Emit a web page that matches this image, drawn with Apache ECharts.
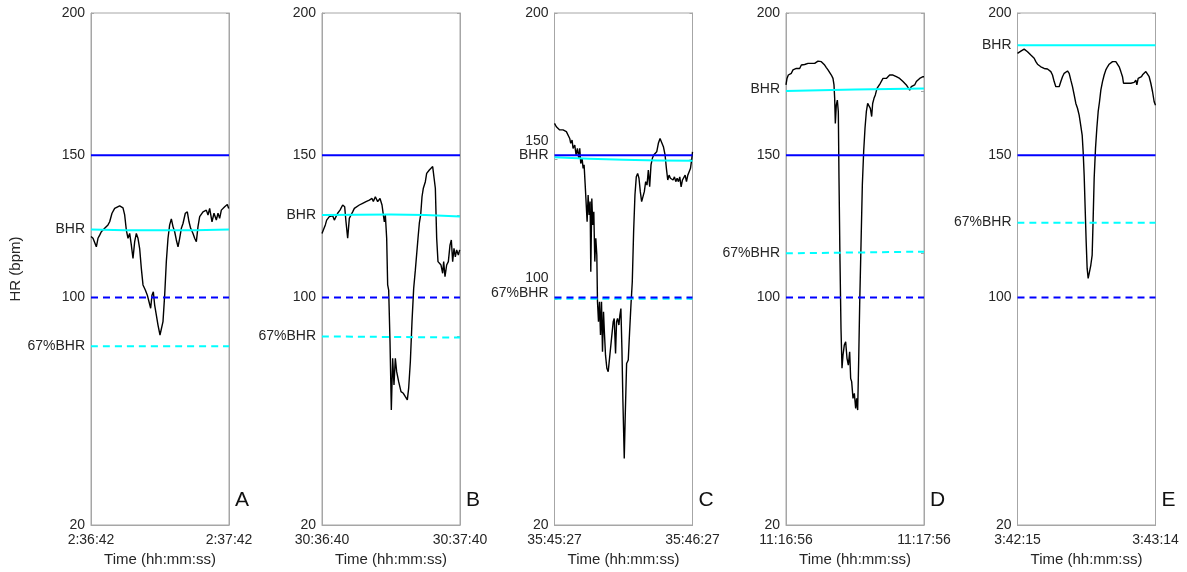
<!DOCTYPE html>
<html><head><meta charset="utf-8">
<script src="https://cdn.jsdelivr.net/npm/echarts@6/dist/echarts.min.js"></script>
<style>html,body{margin:0;padding:0;background:#fff}#c{width:1187px;height:572px}</style>
</head><body><div id="c"></div>
<script>
// ---------- data ----------
const panelLetters = ['A', 'B', 'C', 'D', 'E'];
const startTimes = ['2:36:42', '30:36:40', '35:45:27', '11:16:56', '3:42:15'];
const endTimes = ['2:37:42', '30:37:40', '35:46:27', '11:17:56', '3:43:14'];
const durations = [60, 60, 60, 60, 59];
const hrLimitHigh = 150;
const hrLimitLow = 100;

const tA = [0,0.87,2.32,3.04,3.77,4.49,5.94,6.67,7.39,8.12,9.13,10.29,11.01,12.46,13.91,14.64,15.36,16.09,16.81,17.54,18.26,18.99,19.71,20.43,21.16,21.88,22.61,23.62,24.49,25.22,25.94,26.52,27.10,27.68,28.41,29.13,30.0,30.58,31.30,32.03,32.75,33.48,34.20,34.93,35.65,36.38,37.10,37.83,38.55,39.28,40.0,41.01,41.88,42.61,43.33,44.35,45.07,45.80,46.52,47.25,48.70,50.14,50.87,51.59,52.61,53.48,54.49,55.22,55.94,56.67,58.12,59.28,59.86];
const hrA = [121.4,120.8,117.8,120.8,121.9,123.1,124.3,124.9,125.5,126.6,129.6,131.3,131.9,132.2,131.5,129.0,123.7,120.8,122.5,118.4,113.7,119.6,122.5,120.8,117.2,110.2,104.4,102.6,100.8,98.5,96.2,100.8,102.0,97.3,93.8,90.3,86.8,86.2,91.5,100.8,112.6,120.8,125.5,127.6,124.9,123.1,120.2,117.8,120.8,124.3,126.0,129.6,130.1,126.6,124.3,122.5,120.8,119.6,124.9,128.4,130.1,130.7,129.0,131.3,126.6,129.6,127.2,129.6,127.8,130.7,131.9,132.7,131.3];

const tB = [0,0.58,1.45,2.03,2.61,3.19,3.91,4.64,5.36,6.09,6.81,7.83,8.99,9.86,10.43,11.16,11.88,12.61,13.33,14.06,14.78,16.23,17.68,19.13,20.58,21.74,22.32,23.19,24.20,25.22,26.09,26.67,27.10,27.54,28.12,28.55,28.99,29.57,30.14,30.72,31.30,31.88,32.46,33.33,34.35,35.36,36.23,37.10,37.68,38.41,39.13,39.86,40.58,41.16,41.74,42.32,42.90,43.48,44.06,44.93,45.51,46.67,47.39,48.12,48.84,49.28,49.86,50.43,51.01,51.74,52.46,52.90,53.48,54.20,54.93,55.65,56.23,56.81,57.39,57.97,58.55,59.28,59.86];
const hrB = [122.5,123.7,125.5,127.2,126.6,128.4,127.8,128.7,127.2,128.4,129.6,130.7,132.5,131.9,126.6,120.8,127.8,129.0,130.1,131.3,131.9,132.5,133.1,133.7,134.2,134.8,133.7,135.4,133.7,134.8,132.5,129.0,126.6,129.0,120.8,104.4,102.6,84.4,60.4,78.6,69.2,78.6,73.9,70.4,66.9,66.3,65.1,64.0,68.1,77.4,91.5,103.2,109.6,110.2,120.8,126.1,129.0,135.4,138.4,140.7,143.6,144.8,145.4,146.0,146.0,138.4,120.8,112.6,112.0,111.4,108.5,112.6,107.3,111.4,112.6,118.4,120.2,112.6,117.3,114.3,116.7,114.9,116.7];

const tC = [0,0.80,1.53,2.25,2.98,3.71,4.44,5.16,5.89,6.62,7.05,7.64,8.07,8.80,9.38,9.96,10.55,10.98,11.42,12.0,12.44,12.87,13.31,13.75,14.18,14.62,15.05,15.49,15.78,16.22,16.65,17.09,17.53,17.96,18.40,18.69,19.13,19.56,20.0,20.44,20.87,21.31,21.75,22.18,22.76,23.35,24.07,24.80,25.53,25.96,26.55,26.98,27.42,28.0,28.44,28.87,29.31,29.75,30.33,30.76,31.35,32.07,32.65,33.24,33.82,34.40,34.98,35.56,36.15,36.73,37.31,37.89,38.47,39.05,39.64,40.22,40.80,41.38,41.96,42.55,43.13,43.71,44.44,45.16,45.89,46.62,47.35,48.07,48.65,49.24,49.82,50.40,50.98,51.56,52.15,52.73,53.31,53.89,54.47,55.05,55.64,56.22,56.80,57.38,57.96,58.55,59.13,59.71,60.0];
const hrC = [161.2,160.0,160.6,158.9,159.4,158.9,159.4,158.3,157.7,155.9,154.2,155.3,152.4,153.6,150.1,152.4,148.9,152.4,147.1,148.9,145.4,146.6,140.1,140.7,126.6,136.0,129.0,133.7,109.0,134.8,125.5,130.1,112.6,120.8,114.9,98.5,91.5,98.5,86.8,98.5,80.9,95.0,86.8,79.7,75.1,73.9,79.7,85.6,91.5,92.6,80.3,91.5,92.6,90.3,93.8,96.1,82.1,63.3,43.4,58.6,76.8,78.0,87.9,97.3,105.5,123.1,136.0,142.4,143.6,141.9,137.2,133.7,133.1,137.2,140.7,139.5,144.8,138.9,146.6,148.9,150.1,150.7,151.2,154.2,155.9,155.3,153.0,150.1,145.4,141.3,143.0,141.9,142.4,141.3,142.4,140.7,141.9,140.7,142.4,138.9,141.3,141.9,143.0,140.7,143.0,144.2,145.4,148.9,151.2];

const tD = [0,0.43,1.01,1.59,2.32,3.04,3.77,4.49,5.22,5.94,6.67,7.39,8.12,8.84,9.57,10.29,11.01,11.74,12.46,13.19,13.91,14.64,15.36,16.09,16.81,17.54,18.26,18.99,19.71,20.43,20.87,21.16,21.45,21.88,22.32,22.75,23.04,23.48,23.91,24.35,24.78,25.36,25.94,26.52,27.10,27.68,28.12,28.55,29.13,29.71,30.29,30.72,31.16,31.59,32.03,32.61,33.19,33.77,34.35,34.93,35.51,36.09,36.67,37.25,37.68,38.26,38.84,39.57,40.29,41.01,41.59,42.17,42.90,43.62,44.35,45.07,45.80,46.52,47.25,47.97,48.70,49.42,50.14,50.87,51.59,52.32,53.04,53.77,54.49,55.22,55.94,56.67,57.39,58.12,58.84,59.57,60.0];
const hrD = [174.7,177.0,178.2,177.6,178.8,180.0,179.4,180.5,181.1,180.5,181.7,181.1,181.9,181.5,182.3,181.7,182.3,182.9,182.3,182.9,183.1,183.8,182.9,182.3,181.7,180.8,180.0,179.4,178.2,177.0,174.7,170.0,161.2,167.7,169.4,165.3,141.9,112.6,89.1,75.1,79.7,83.3,84.4,78.6,76.2,80.9,71.5,70.4,64.5,66.3,61.0,64.5,60.4,77.4,97.3,118.4,139.5,151.3,159.5,165.3,168.2,167.7,166.5,163.6,168.2,170.0,171.2,173.5,174.1,175.3,175.9,177.0,176.4,177.0,177.6,178.2,177.6,178.2,178.4,177.6,178.2,177.0,176.4,175.9,175.3,174.7,174.1,172.9,174.1,174.1,174.7,175.9,176.4,177.0,177.0,177.6,177.6];

const tE = [0,0.71,1.43,2.14,2.85,3.56,4.28,4.99,5.70,6.41,7.13,7.84,8.55,9.26,9.98,10.69,11.40,12.11,12.83,13.54,14.25,14.96,15.68,16.39,17.10,17.81,18.53,19.24,19.95,20.66,21.38,22.09,22.80,23.51,24.23,24.94,25.65,26.36,26.79,27.22,27.65,28.07,28.50,28.93,29.36,29.78,30.21,30.78,31.35,31.92,32.35,32.78,33.35,33.92,34.49,35.06,35.63,36.34,37.05,37.77,38.48,39.19,39.90,40.62,41.33,42.04,42.75,43.47,44.18,44.89,45.32,45.89,47.03,48.45,49.88,50.59,51.02,51.59,52.44,53.01,53.58,54.15,54.87,55.58,56.29,57.00,57.72,58.43,59.0];
const hrE = [185.8,186.4,186.6,187.0,187.3,187.0,186.4,185.8,185.2,184.6,184.1,182.9,182.0,181.7,181.1,180.8,180.5,180.5,180.3,180.0,179.4,178.2,175.9,174.1,173.5,174.1,175.9,177.6,178.8,179.4,179.6,178.8,176.4,174.1,171.2,168.2,166.5,164.1,161.8,162.4,157.1,151.2,143.0,131.3,119.6,110.2,106.7,109.0,111.4,114.9,127.8,141.9,152.4,159.5,165.3,168.8,172.9,175.9,178.2,180.0,181.1,182.0,182.3,182.9,183.1,182.9,182.7,181.1,179.4,177.6,175.3,175.3,175.3,175.3,175.6,176.4,174.7,177.0,177.3,177.6,178.4,178.8,179.4,178.8,177.6,175.3,172.4,168.8,167.6];

// baseline HR (BHR) and 67% of BHR, sampled at start / middle / end of each window
const bhrA = [123.9, 123.6, 123.9];
const bhrB = [129.0, 129.2, 128.5];
const bhrC = [149.3, 148.4, 148.1];
const bhrD = [172.6, 173.1, 173.5];
const bhrE = [188.7, 188.7, 188.7];
const pctA = [82.8, 82.8, 82.8];
const pctB = [86.3, 86.1, 85.9];
const pctC = [99.5, 99.5, 99.5];
const pctD = [115.5, 115.8, 116.1];
const pctE = [126.3, 126.3, 126.3];

// y tick positions and tick-label positions / texts
const yTicksA = [20, 82.8, 100, 123.9, 150, 200];
const yTicksB = [20, 86.3, 100, 129.0, 150, 200];
const yTicksC = [20, 99.5, 100, 148.5, 150, 200];
const yTicksD = [20, 100, 115.5, 150, 172.6, 200];
const yTicksE = [20, 100, 126.3, 150, 188.7, 200];
const yLabelPosA = [20, 82.8, 100, 123.9, 150, 200];
const yLabelPosB = [20, 86.3, 100, 129.0, 150, 200];
const yLabelPosC = [20, 101.4, 106.7, 150.1, 155.1, 200];
const yLabelPosD = [20, 100, 115.6, 150, 173.3, 200];
const yLabelPosE = [20, 100, 126.3, 150, 188.7, 200];
const yLabelTxtA = ['20', '67%BHR', '100', 'BHR', '150', '200'];
const yLabelTxtB = ['20', '67%BHR', '100', 'BHR', '150', '200'];
const yLabelTxtC = ['20', '67%BHR', '100', 'BHR', '150', '200'];
const yLabelTxtD = ['20', '100', '67%BHR', '150', 'BHR', '200'];
const yLabelTxtE = ['20', '100', '67%BHR', '150', 'BHR', '200'];

// ---------- build ----------
const panels = [
  {t: tA, hr: hrA, bhr: bhrA, pct: pctA, ticks: yTicksA, lp: yLabelPosA, lt: yLabelTxtA},
  {t: tB, hr: hrB, bhr: bhrB, pct: pctB, ticks: yTicksB, lp: yLabelPosB, lt: yLabelTxtB},
  {t: tC, hr: hrC, bhr: bhrC, pct: pctC, ticks: yTicksC, lp: yLabelPosC, lt: yLabelTxtC},
  {t: tD, hr: hrD, bhr: bhrD, pct: pctD, ticks: yTicksD, lp: yLabelPosD, lt: yLabelTxtD},
  {t: tE, hr: hrE, bhr: bhrE, pct: pctE, ticks: yTicksE, lp: yLabelPosE, lt: yLabelTxtE}
];

const FONT = '"Liberation Sans", Arial, Helvetica, sans-serif';
const TXT = '#262626';
const FRAME = '#a6a6a6';
const gridLefts = [91, 322, 554.5, 786, 1017.5];
const gridW = 138;

const option = {
  animation: false,
  backgroundColor: '#fff',
  textStyle: {fontFamily: FONT},
  title: [], grid: [], xAxis: [], yAxis: [], series: []
};

panels.forEach((p, i) => {
  const dur = durations[i];
  option.grid.push({left: gridLefts[i], top: 13, width: gridW, height: 512,
    show: true, borderColor: FRAME, borderWidth: 1, backgroundColor: '#fff'});
  option.title.push({text: panelLetters[i], left: gridLefts[i] + gridW + 6, top: 490, padding: 0,
    textStyle: {fontFamily: FONT, fontSize: 21, fontWeight: 'normal', color: '#111'}});
  option.xAxis.push({
    gridIndex: i, type: 'value', min: 0, max: dur,
    axisLine: {show: true, lineStyle: {color: FRAME, width: 1}},
    axisTick: {show: false}, splitLine: {show: false},
    axisLabel: {customValues: [0, dur], color: TXT, fontSize: 14, fontFamily: FONT, margin: 8,
      formatter: v => (v === 0 ? startTimes[i] : endTimes[i])},
    name: 'Time (hh:mm:ss)', nameLocation: 'middle', nameGap: 26,
    nameTextStyle: {color: TXT, fontSize: 15, fontFamily: FONT}
  });
  const labelMap = new Map(p.lp.map((v, k) => [v, p.lt[k]]));
  const yCommon = {
    gridIndex: i, type: 'value', min: 20, max: 200,
    axisLine: {show: true, lineStyle: {color: FRAME, width: 1}},
    splitLine: {show: false},
    axisTick: {show: true, inside: true, length: 3, customValues: p.ticks, lineStyle: {color: FRAME}}
  };
  option.yAxis.push(Object.assign({}, yCommon, {
    position: 'left',
    axisLabel: {customValues: p.lp, color: TXT, fontSize: 14, fontFamily: FONT, margin: 6,
      formatter: v => (labelMap.has(v) ? labelMap.get(v) : '')},
    name: i === 0 ? 'HR (bpm)' : '', nameLocation: 'middle', nameGap: 67, nameRotate: 90,
    nameTextStyle: {color: TXT, fontSize: 15, fontFamily: FONT}
  }));
  option.yAxis.push(Object.assign({}, yCommon, {position: 'right', axisLabel: {show: false}}));

  const yi = 2 * i;
  const tMid = dur / 2;
  const lineBase = {type: 'line', xAxisIndex: i, yAxisIndex: yi, symbol: 'none', silent: true};
  option.series.push(Object.assign({}, lineBase, {
    data: p.t.map((t, k) => [t, p.hr[k]]),
    lineStyle: {color: '#000', width: 1.4}, z: 2
  }));
  option.series.push(Object.assign({}, lineBase, {
    data: [[0, p.bhr[0]], [tMid, p.bhr[1]], [dur, p.bhr[2]]], smooth: true,
    lineStyle: {color: '#00ffff', width: 2}, z: 3
  }));
  option.series.push(Object.assign({}, lineBase, {
    data: [[0, p.pct[0]], [tMid, p.pct[1]], [dur, p.pct[2]]], smooth: true,
    lineStyle: {color: '#00ffff', width: 2, type: [7, 5]}, z: 3
  }));
  option.series.push(Object.assign({}, lineBase, {
    data: [[0, hrLimitHigh], [dur, hrLimitHigh]],
    lineStyle: {color: '#0000ff', width: 2}, z: 4
  }));
  option.series.push(Object.assign({}, lineBase, {
    data: [[0, hrLimitLow], [dur, hrLimitLow]],
    lineStyle: {color: '#0000ff', width: 2, type: [7, 5]}, z: 4
  }));
});

const chart = echarts.init(document.getElementById('c'), null, {renderer: 'canvas'});
chart.setOption(option);
</script>
</body></html>
